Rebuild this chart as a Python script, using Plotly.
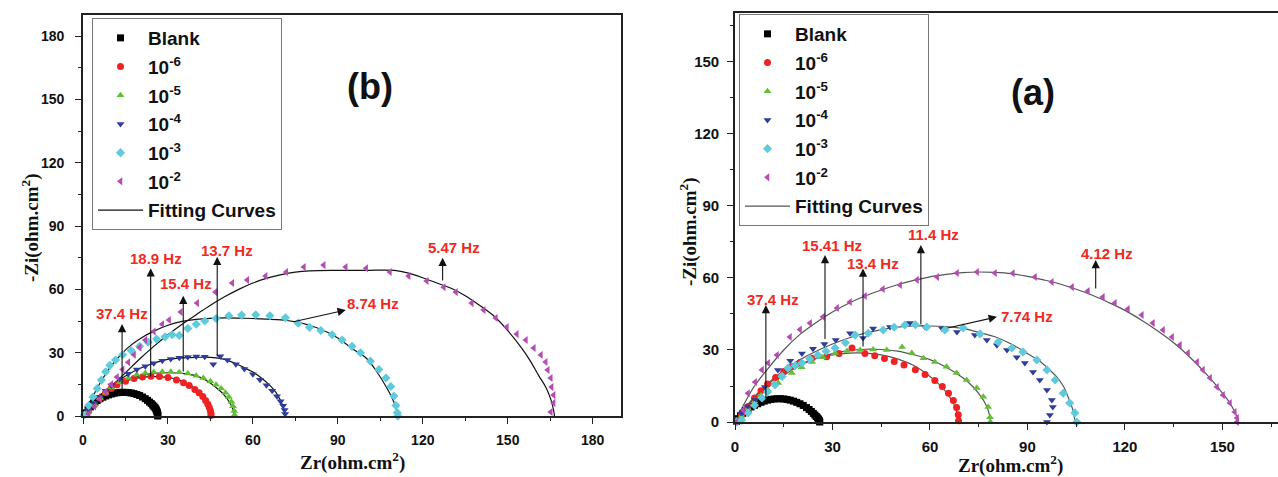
import plotly.graph_objects as go

# ---------------- DATA : panel (b) ----------------
series_names = ["Blank", "10<sup>-6</sup>", "10<sup>-5</sup>", "10<sup>-4</sup>", "10<sup>-3</sup>", "10<sup>-2</sup>"]

b_blank_x = [1, 1.8, 2.6, 3.4, 4.2, 5, 6, 7, 8, 9, 10, 11, 12, 13, 14, 15, 16, 17, 18, 19, 20, 21, 22, 22.8, 23.5, 24.1, 24.6, 25, 25.4, 25.7, 25.9, 26.1, 26.2, 26.3, 26.4, 26.4, 26.4]
b_blank_y = [1.5, 3, 4.3, 5.5, 6.5, 7.3, 8.2, 8.9, 9.5, 10, 10.4, 10.8, 11, 11.2, 11.2, 11.2, 11.1, 10.9, 10.6, 10.2, 9.7, 9, 8.2, 7.4, 6.6, 5.9, 5.2, 4.6, 4, 3.4, 2.8, 2.2, 1.7, 1.2, 0.7, 0.3, 0]

b_e6_x = [2, 4, 6, 8, 10, 12, 15, 18, 21, 24, 27, 30, 33, 35.5, 37.5, 39.5, 41, 42.3, 43.3, 44.1, 44.6, 45, 45.2, 45.2]
b_e6_y = [2.5, 5.5, 8.5, 11, 13, 14.8, 16.5, 17.8, 18.5, 18.8, 18.7, 18.2, 17, 15.8, 14.4, 12.6, 11, 9.2, 7.4, 5.6, 4, 2.5, 1.2, 0.2]

b_e5_x = [2, 4, 6, 8, 10, 13, 16, 19, 22, 25, 28, 31, 34, 37, 40, 42.5, 45, 47, 48.8, 50.3, 51.5, 52.4, 53, 53.4, 53.5]
b_e5_y = [2.5, 5.5, 8.5, 11, 13.5, 16, 18, 19.5, 20.4, 20.8, 21, 21, 20.7, 20.1, 19.1, 18, 16.5, 14.8, 13, 11, 9, 6.8, 4.6, 2.4, 0.5]

b_e4_x = [2, 4, 6, 8, 10, 13, 16, 19, 22, 25, 28, 31, 34, 37, 40, 43, 46, 48.5, 51, 54, 57, 60, 62.5, 64.8, 66.8, 68.5, 69.8, 70.7, 71.2, 71.4, 71.2]
b_e4_y = [2.8, 6, 9, 12, 14.5, 17.5, 20, 22, 23.6, 25, 26.2, 27, 27.6, 28, 28.2, 28.1, 24.5, 28.3, 26.5, 24.5, 22.3, 19.8, 17.2, 14.6, 12, 9.4, 7, 4.8, 2.8, 1, -0.5]

b_e3_x = [0.5, 2, 3.5, 5, 6.5, 8, 9.5, 11.5, 14, 17, 20, 23, 26, 29, 31.5, 34, 37, 40, 43, 47, 51.5, 56, 61, 66, 71.5, 76, 80, 84, 88, 91.5, 95, 98, 101.5, 104.5, 107, 108.7, 109.8, 110.5, 111, 111.2]
b_e3_y = [0.5, 5, 9, 13, 17, 21, 24, 26.5, 29, 31, 33, 35, 36.5, 37.5, 38.5, 38.2, 41.5, 43.5, 45, 46.2, 47.5, 47.8, 48, 47.5, 46.5, 44, 42, 40.5, 38.5, 36, 33, 30, 26, 22, 18, 14, 9.5, 5, 1.5, 0]

b_e2_x = [0, 2, 4, 6, 8, 10, 12, 14, 16, 18, 20, 22, 25, 28, 30.4, 34.5, 40.3, 46.8, 52.7, 58, 64.5, 71.8, 78, 85, 92.8, 100, 108.4, 115, 121.4, 127.4, 131.7, 137.3, 141.5, 145.8, 149.7, 153.2, 156.4, 159.2, 161.7, 163.4, 164.1, 165.2, 165.5, 166.2, 166.2, 165.2, 163.4]
b_e2_y = [-1, 1, 4.5, 8, 11.5, 15, 18.5, 22, 25.5, 29, 32.5, 36, 40, 43.5, 45.5, 49.3, 53.5, 58.7, 63, 64.4, 66.3, 68.2, 70.6, 71.5, 70.6, 70, 68.2, 66.3, 64, 61, 58.7, 53.5, 50.2, 46.4, 42.2, 38.8, 36, 32.2, 28.9, 25.6, 21.8, 18, 13.7, 9.9, 6.2, 1.9, -1.9]

# fitting curves (b)
bf_e6_x = [0, 5, 10, 15, 20, 25, 30, 34, 37, 39.5, 41.5, 43, 44.2, 44.9, 45.2]
bf_e6_y = [0, 7.5, 13, 16.5, 18.2, 18.7, 18.3, 17, 15.2, 13, 10.5, 8, 5, 2.5, 0]
bf_e5_x = [0, 5, 10, 15, 20, 25, 30, 35, 40, 44, 47, 49.5, 51.5, 52.7, 53.3, 53.5]
bf_e5_y = [0, 8, 13.5, 17, 19, 20.2, 20.5, 20.2, 19, 16.5, 13.5, 10.5, 7, 4, 1.5, 0]
bf_e4_x = [0, 5, 10, 15, 20, 25, 30, 35, 40, 45, 50, 55, 57.5, 60, 63, 66, 68, 69.5, 70.5, 71.2, 71.4]
bf_e4_y = [0, 8.5, 14.5, 19, 22.5, 25, 26.8, 27.5, 27.8, 27.8, 26.8, 24.2, 22.5, 20.8, 18, 14.5, 11.4, 8, 5, 2, 0]
bf_e3_x = [0, 3, 6, 9, 12, 16, 20, 25, 30, 35, 40, 45, 50, 55, 60, 65, 70, 75, 80, 85, 90, 95, 100, 104, 107, 109, 110.5, 111.2]
bf_e3_y = [0, 8, 15.5, 22, 27, 32.5, 36.5, 40.2, 43, 44.8, 45.8, 46.3, 46.5, 46.4, 46.2, 45.9, 45.5, 44.6, 43, 40.5, 37, 32, 27.5, 20.5, 14, 9, 4, 0]
bf_e2_x = [0, 5, 10, 15, 20, 25, 30, 35, 40, 45, 50, 55, 60, 65, 70, 75, 80, 90, 100, 110, 115, 120, 125, 130, 135, 140, 145, 150, 155, 158, 161, 163.5, 165.3, 166.3, 166.5]
bf_e2_y = [0, 7, 14, 20.5, 27, 33, 38.5, 43.5, 48, 52.5, 56.5, 60, 63, 65.3, 67, 68.2, 68.8, 69, 69, 69, 67.7, 65.5, 63, 60.5, 57, 52.5, 47.5, 40.5, 32, 26, 19, 13.5, 7.5, 2, 0]

# ---------------- DATA : panel (a) ----------------
a_blank_x = [0.5, 1, 1.7, 2.4, 3.2, 4, 5, 6, 7, 8, 9, 10, 11, 12, 13, 14, 15, 16, 17, 18, 19, 20, 21, 22, 22.8, 23.5, 24.1, 24.6, 25, 25.4, 25.7, 25.9, 26, 26.1]
a_blank_y = [0.3, 1.4, 2.6, 3.6, 4.6, 5.4, 6.3, 7, 7.6, 8.2, 8.7, 9.1, 9.4, 9.6, 9.7, 9.7, 9.6, 9.4, 9.1, 8.7, 8.2, 7.6, 6.9, 6, 5.2, 4.4, 3.6, 2.9, 2.3, 1.7, 1.2, 0.7, 0.3, 0]

a_e6_x = [0.5, 2, 4, 6, 8, 10, 12.5, 15, 17.5, 20, 23.6, 28.2, 32, 36, 40, 43, 46, 49, 52, 55.5, 58.5, 61.5, 63.8, 65.7, 67.2, 68.2, 68.7, 68.8]
a_e6_y = [0.5, 3, 6.5, 10, 13, 15.8, 18.5, 21, 23, 24.8, 26.6, 27.2, 28.5, 30.8, 28.5, 27.6, 26.5, 25.2, 23.7, 21.8, 19.8, 17.3, 14.8, 12, 9, 6, 3, 0.5]

a_e5_x = [0.5, 2, 4, 6, 8, 10, 13.3, 17.5, 20.5, 23.7, 27, 30.8, 34.5, 38.5, 42.5, 46.7, 51.4, 54.4, 58, 61.5, 65.1, 68.2, 71.3, 74.4, 76.4, 77.9, 78.5, 78.6]
a_e5_y = [0.3, 2.5, 5.5, 8.5, 11, 13.5, 16.2, 20.4, 22.8, 25, 27, 28.7, 29.6, 30, 30.2, 30, 31.2, 28.7, 26.6, 25, 23, 20.4, 17.5, 14.2, 10.5, 6.2, 2, 0]

a_e4_x = [0.5, 2, 4, 6.2, 9.2, 13.2, 17, 20.6, 24, 27.5, 31, 35.4, 39.4, 42.5, 47.7, 53.8, 58.5, 63.7, 68.3, 73.8, 77.5, 80.6, 83.7, 86.7, 89.2, 91.7, 93.8, 96, 97.5, 97.8, 96.9, 96]
a_e4_y = [0.5, 3.5, 6.5, 9.2, 14.6, 21.7, 25.5, 28.5, 30.5, 32.5, 34.2, 37, 35, 39, 39.6, 41.2, 39.6, 39, 37.5, 36.2, 34.2, 32, 30, 27, 24.6, 20.8, 17.5, 13.3, 9.2, 6.2, 2.9, 0]

a_e3_x = [0.5, 2, 4, 6, 8.3, 10, 12.3, 14.5, 16.3, 18.5, 20.6, 23, 25.5, 28, 30.8, 34, 37, 41, 45.6, 49, 52.3, 55.5, 59, 64.6, 70.2, 75.4, 81, 85.2, 88.6, 92.9, 96, 98.5, 101, 103, 104.6, 105.2]
a_e3_y = [0, 0.8, 3.8, 7, 10, 12.5, 15.4, 19, 22.5, 23.5, 24.6, 26.3, 27.9, 29.5, 30.8, 33, 36.2, 37, 38.3, 39.5, 40.4, 40.5, 39.6, 38.3, 39.2, 36.7, 33.3, 30.8, 29.2, 25.8, 21.7, 17.5, 12, 7.9, 3.8, 0]

a_e2_x = [0.3, 2.5, 4, 6.2, 8.3, 10.2, 12.9, 16.9, 20, 23.1, 27.1, 31.4, 35.4, 40, 45.5, 50.8, 56, 62.2, 68.3, 74.5, 80, 85.5, 92.3, 97.5, 103.7, 108.6, 113.2, 116.9, 120.9, 125.2, 128.6, 131.7, 134.5, 136.9, 139.4, 142.2, 144, 146.2, 148.3, 150.2, 152.3, 153.8, 154.5, 154.5]
a_e2_y = [0, 5, 12, 16.7, 21.7, 24.6, 27.9, 35.4, 38.5, 41.2, 43.8, 47.5, 50, 52.5, 55.4, 57.1, 59.2, 60.4, 62.1, 62.5, 62.1, 62, 60.4, 58.3, 56.2, 54.6, 52.1, 49.6, 47.1, 44.6, 41.2, 38.3, 35.4, 32.1, 28.7, 25, 21.7, 18.3, 14.6, 11.2, 7.9, 4.2, 1.7, 0]

# fitting curves (a)
af_e6_x = [0, 5, 10, 15, 20, 25, 30, 35, 40, 45, 50, 55, 60, 63, 65.5, 67.3, 68.4, 68.8]
af_e6_y = [0, 8.5, 15.5, 20.5, 24, 26.5, 28, 28.7, 28.7, 28, 26.3, 23.5, 19, 15.5, 11.5, 7.5, 3.5, 0]
af_e5_x = [0, 5, 10, 15, 20, 25, 30, 35, 40, 45, 50, 55, 60, 65, 70, 73, 75.5, 77.3, 78.3, 78.6]
af_e5_y = [0, 8, 14.5, 19.5, 23.5, 26.5, 28.5, 29.8, 30.3, 30.2, 29.5, 28, 26, 22.8, 18.5, 15, 11, 7, 3, 0]
af_e3_x = [0, 5, 10, 15, 20, 25, 30, 35, 40, 45, 50, 55, 60, 65, 70, 76, 80, 85, 90, 93.3, 97, 99, 101, 102.5, 104, 104.6, 105]
af_e3_y = [0, 9, 16, 21.5, 26, 29.5, 32.5, 35, 37, 38.5, 39.5, 40, 40, 39.7, 39, 37, 35.5, 32.5, 28.5, 25.8, 21.5, 18.8, 15, 10.4, 5, 1, 0]
af_e2_x = [0, 3, 6, 10, 15, 20, 25, 30, 35, 40, 45, 50, 55, 60, 65, 70, 75, 80, 85, 90, 95, 100, 105, 110, 115, 120, 125, 130, 135, 140, 144, 147, 150, 152, 153.5, 154.5, 155]
af_e2_y = [0, 8, 15, 22, 30, 36.5, 41.5, 45.8, 49.5, 52.5, 55, 57.2, 59, 60.5, 61.5, 62.2, 62.5, 62.3, 61.8, 60.7, 59.2, 57.5, 55.3, 52.8, 49.8, 46.5, 42.5, 38, 33, 27, 21.5, 17, 12, 8.5, 5, 2, 0]

# frequency annotations: label, text pos, arrow tail, arrow head
b_freq_labels = ["37.4 Hz", "18.9 Hz", "15.4 Hz", "13.7 Hz", "8.74 Hz", "5.47 Hz"]
b_text_x = [13.8, 25.8, 36.5, 51, 102.5, 131]
b_text_y = [48.5, 74.5, 63, 78.5, 53.5, 80]
b_tail_x = [13.8, 23.9, 35.4, 47.4, 73.8, 127]
b_tail_y = [11, 18, 20.4, 27.5, 44.5, 63.5]
b_head_x = [13.8, 23.9, 35.4, 47.4, 92.8, 127]
b_head_y = [43.6, 70, 57, 75.5, 50.2, 75]

a_freq_labels = ["37.4 Hz", "15.41 Hz", "13.4 Hz", "11.4 Hz", "7.74 Hz", "4.12 Hz"]
a_text_x = [11.7, 30, 42.5, 61, 89.8, 114.5]
a_text_y = [51, 73.5, 66, 78, 43.8, 70.4]
a_tail_x = [9.5, 27.7, 39.4, 57.2, 65, 111]
a_tail_y = [9.2, 34, 30.8, 40, 39, 55]
a_head_x = [9.5, 27.7, 39.4, 57.2, 80.6, 111]
a_head_y = [48.7, 69.6, 64, 73.7, 43.8, 67.5]

# ---------------- STYLE ----------------
colors = ["#000000", "#ee2222", "#62c036", "#2e3d9c", "#5fcadb", "#b54cb4"]
symbols = ["square", "circle", "triangle-up", "triangle-down", "diamond", "triangle-left"]

fig = go.Figure()

b_sets = [(b_blank_x, b_blank_y), (b_e6_x, b_e6_y), (b_e5_x, b_e5_y), (b_e4_x, b_e4_y), (b_e3_x, b_e3_y), (b_e2_x, b_e2_y)]
a_sets = [(a_blank_x, a_blank_y), (a_e6_x, a_e6_y), (a_e5_x, a_e5_y), (a_e4_x, a_e4_y), (a_e3_x, a_e3_y), (a_e2_x, a_e2_y)]
b_fits = [(bf_e6_x, bf_e6_y), (bf_e5_x, bf_e5_y), (bf_e4_x, bf_e4_y), (bf_e3_x, bf_e3_y), (bf_e2_x, bf_e2_y)]
a_fits = [(af_e6_x, af_e6_y), (af_e5_x, af_e5_y), (af_e3_x, af_e3_y), (af_e2_x, af_e2_y)]

def add_panel(sets, fits, xa, ya, leg, fitcolor, tag):
    for i, (xs, ys) in enumerate(fits):
        fig.add_trace(go.Scatter(x=xs, y=ys, mode="lines", line=dict(color=fitcolor, width=1.2, shape="spline"),
                                 xaxis=xa, yaxis=ya, legend=leg, name="Fitting Curves",
                                 legendgroup=tag + "fit", showlegend=(i == 0), legendrank=100,
                                 cliponaxis=False))
    for i, (xs, ys) in enumerate(sets):
        fig.add_trace(go.Scatter(x=xs, y=ys, mode="markers",
                                 marker=dict(symbol=symbols[i], color=colors[i], size=7,
                                             line=dict(width=0)),
                                 xaxis=xa, yaxis=ya, legend=leg, name=series_names[i],
                                 legendgroup=tag + str(i), legendrank=i + 1, cliponaxis=False))

add_panel(b_sets, b_fits, "x", "y", "legend", "#111111", "b")
add_panel(a_sets, a_fits, "x2", "y2", "legend2", "#555555", "a")

def axis_style(size):
    return dict(showline=True, linecolor="#222222", linewidth=1.6, ticks="outside", ticklen=6,
                tickwidth=1.4, tickcolor="#222222", showgrid=False, zeroline=False,
                tickfont=dict(family="Liberation Sans, Arial", size=size, color="#111111", weight="bold"),
                minor=dict(ticks="outside", ticklen=3, tickwidth=1.2, tickcolor="#222222", dtick=15))

legend_font = dict(family="Liberation Sans, Arial", size=19, color="#111111", weight="bold")

fig.update_layout(
    width=1278, height=477, margin=dict(l=0, r=0, t=0, b=0, autoexpand=False),
    paper_bgcolor="white", plot_bgcolor="white",
    xaxis=dict(domain=[83 / 1278, 621 / 1278], range=[0, 190], tick0=0, dtick=30, mirror=True, anchor="y",
               ticklabelstandoff=4, **axis_style(14)),
    yaxis=dict(domain=[61 / 477, 462 / 477], range=[0, 190], tick0=0, dtick=30, mirror=True, anchor="x",
               ticklabelstandoff=8, **axis_style(14)),
    xaxis2=dict(domain=[735 / 1278, 1.0], range=[0, 167.1], tick0=0, dtick=30, mirror=True, anchor="y2",
                ticklabelstandoff=4, **axis_style(15)),
    yaxis2=dict(domain=[55 / 477, 464 / 477], range=[0, 170.4], tick0=0, dtick=30, mirror=False, anchor="x2",
                ticklabelstandoff=5, **axis_style(15)),
    legend=dict(x=92 / 1278, y=1 - 18 / 477, xanchor="left", yanchor="top", bgcolor="white",
                bordercolor="#777777", borderwidth=1, traceorder="grouped", tracegroupgap=1, itemwidth=45,
                font=legend_font),
    legend2=dict(x=739 / 1278, y=1 - 14 / 477, xanchor="left", yanchor="top", bgcolor="white",
                 bordercolor="#777777", borderwidth=1, traceorder="grouped", tracegroupgap=1, itemwidth=45,
                 font=legend_font),
    showlegend=True,
)

annotations = []
red = "#ee2a22"
def add_freqs(labels, tx, ty, x0, y0, x1, y1, xr, yr):
    for k in range(len(labels)):
        annotations.append(dict(x=x1[k], y=y1[k], ax=x0[k], ay=y0[k], xref=xr, yref=yr, axref=xr, ayref=yr,
                                text="", showarrow=True, arrowhead=2, arrowsize=1.5, arrowwidth=1.1,
                                arrowcolor="#111111", standoff=0, startstandoff=0))
        annotations.append(dict(x=tx[k], y=ty[k], xref=xr, yref=yr, text=labels[k], showarrow=False,
                                xanchor="center", yanchor="middle",
                                font=dict(family="Liberation Sans, Arial", size=15, color=red, weight="bold")))

add_freqs(b_freq_labels, b_text_x, b_text_y, b_tail_x, b_tail_y, b_head_x, b_head_y, "x", "y")
add_freqs(a_freq_labels, a_text_x, a_text_y, a_tail_x, a_tail_y, a_head_x, a_head_y, "x2", "y2")

titlefont = dict(family="Liberation Serif, Times New Roman", size=19, color="#111111", weight="bold")
panelfont = dict(family="Liberation Sans, Arial", size=36, color="#111111", weight="bold")
def paper_text(px, py, text, font, angle=0):
    return dict(x=px / 1278, y=1 - py / 477, xref="paper", yref="paper", text=text, showarrow=False,
                xanchor="center", yanchor="middle", textangle=angle, font=font)

annotations += [
    paper_text(352, 461, "Zr(ohm.cm<sup>2</sup>)", titlefont),
    paper_text(1010, 464, "Zr(ohm.cm<sup>2</sup>)", titlefont),
    paper_text(30, 228, "-Zi(ohm.cm<sup>2</sup>)", titlefont, -90),
    paper_text(688, 232, "-Zi(ohm.cm<sup>2</sup>)", titlefont, -90),
    paper_text(370, 86, "(b)", panelfont),
    paper_text(1033, 93, "(a)", panelfont),
]
fig.update_layout(annotations=annotations)

fig.write_html("out.html", config={"displayModeBar": False},
               post_script="document.body.style.margin='0px';")
